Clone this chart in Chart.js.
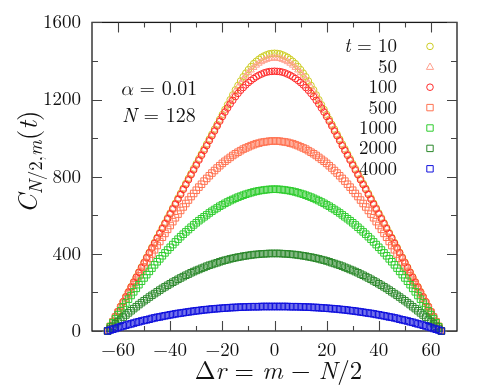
<!DOCTYPE html>
<html>
<head>
<meta charset="utf-8">
<script src="https://cdn.jsdelivr.net/npm/chart.js@4.4.1/dist/chart.umd.min.js"></script>
<style>
  html, body { margin: 0; padding: 0; background: #fff; }
  .warm { position: absolute; left: -999px; top: 0; font-family: "Latin Modern Roman"; }
</style>
</head>
<body>
<canvas id="chart" width="491" height="386"></canvas>
<div class="warm">0123 <i>tNm</i> αΔ</div>
<script>
// x positions: Δr = m - N/2
const dr = [-64,-63,-62,-61,-60,-59,-58,-57,-56,-55,-54,-53,-52,-51,-50,-49,-48,-47,-46,-45,-44,-43,-42,-41,-40,-39,-38,-37,-36,-35,-34,-33,-32,-31,-30,-29,-28,-27,-26,-25,-24,-23,-22,-21,-20,-19,-18,-17,-16,-15,-14,-13,-12,-11,-10,-9,-8,-7,-6,-5,-4,-3,-2,-1,0,1,2,3,4,5,6,7,8,9,10,11,12,13,14,15,16,17,18,19,20,21,22,23,24,25,26,27,28,29,30,31,32,33,34,35,36,37,38,39,40,41,42,43,44,45,46,47,48,49,50,51,52,53,54,55,56,57,58,59,60,61,62,63,64];

// C_{N/2,m}(t), one list per t
const c10 = [0,26,51,77,102,128,153,179,204,230,255,281,306,332,357,383,408,434,459,485,510,536,561,587,612,638,663,689,714,740,765,791,816,842,867,893,918,944,969,995,1020,1046,1071,1097,1122,1148,1173,1199,1224,1250,1273,1296,1318,1337,1355,1371,1386,1398,1409,1419,1426,1432,1437,1439,1440,
  1439,1437,1432,1426,1419,1409,1398,1386,1371,1355,1337,1318,1296,1273,1250,1224,1199,1173,1148,1122,1097,1071,1046,1020,995,969,944,918,893,867,842,816,791,765,740,714,689,663,638,612,587,561,536,510,485,459,434,408,383,357,332,306,281,255,230,204,179,153,128,102,77,51,26,0];
const c50 = [0,25,51,76,102,127,152,178,203,229,254,279,305,330,356,381,406,432,457,483,508,533,559,584,610,635,660,686,711,737,762,787,813,838,864,889,914,940,965,991,1016,1041,1067,1092,1118,1143,1168,1194,1219,1243,1265,1286,1305,1322,1339,1353,1366,1378,1388,1396,1403,1408,1412,1414,1415,
  1414,1412,1408,1403,1396,1388,1378,1366,1353,1339,1322,1305,1286,1265,1243,1219,1194,1168,1143,1118,1092,1067,1041,1016,991,965,940,914,889,864,838,813,787,762,737,711,686,660,635,610,584,559,533,508,483,457,432,406,381,356,330,305,279,254,229,203,178,152,127,102,76,51,25,0];
const c100 = [0,25,51,76,101,127,152,177,202,228,253,278,304,329,354,380,405,430,455,481,506,531,557,582,607,633,658,683,708,734,759,784,810,835,860,886,911,936,961,987,1012,1037,1063,1088,1112,1135,1156,1177,1196,1215,1232,1248,1262,1276,1288,1299,1309,1318,1326,1332,1338,1342,1345,1346,1347,
  1346,1345,1342,1338,1332,1326,1318,1309,1299,1288,1276,1262,1248,1232,1215,1196,1177,1156,1135,1112,1088,1063,1037,1012,987,961,936,911,886,860,835,810,784,759,734,708,683,658,633,607,582,557,531,506,481,455,430,405,380,354,329,304,278,253,228,202,177,152,127,101,76,51,25,0];
const c500 = [0,24,48,72,97,121,145,168,192,216,239,263,286,309,332,355,377,399,421,443,464,486,506,527,547,567,587,606,625,643,661,679,697,713,730,746,761,777,791,805,819,832,845,857,869,880,890,900,910,919,927,935,943,949,955,961,966,971,974,978,980,982,984,985,985,
  985,984,982,980,978,974,971,966,961,955,949,943,935,927,919,910,900,890,880,869,857,845,832,819,805,791,777,761,746,730,713,697,679,661,643,625,606,587,567,547,527,506,486,464,443,421,399,377,355,332,309,286,263,239,216,192,168,145,121,97,72,48,24,0];
const c1000 = [0,22,43,64,85,105,125,145,165,184,203,221,240,258,275,292,309,326,343,359,374,390,405,420,434,448,462,476,489,502,514,526,538,550,561,572,582,592,602,612,621,630,638,647,654,662,669,676,682,688,694,699,704,709,713,717,721,724,727,729,731,733,734,735,735,
  735,734,733,731,729,727,724,721,717,713,709,704,699,694,688,682,676,669,662,654,647,638,630,621,612,602,592,582,572,561,550,538,526,514,502,489,476,462,448,434,420,405,390,374,359,343,326,309,292,275,258,240,221,203,184,165,145,125,105,85,64,43,22,0];
const c2000 = [0,13,25,37,49,60,72,83,94,105,116,126,137,147,157,166,176,185,194,203,212,221,229,237,245,253,260,268,275,282,289,295,302,308,314,319,325,330,336,341,345,350,354,359,363,367,370,374,377,380,383,385,388,390,392,394,396,397,398,400,400,401,402,402,402,
  402,402,401,400,400,398,397,396,394,392,390,388,385,383,380,377,374,370,367,363,359,354,350,345,341,336,330,325,319,314,308,302,295,289,282,275,268,260,253,245,237,229,221,212,203,194,185,176,166,157,147,137,126,116,105,94,83,72,60,49,37,25,13,0];
const c4000 = [0,5,9,13,18,22,26,30,34,37,41,45,48,52,55,58,61,65,68,71,73,76,79,81,84,86,89,91,93,95,97,99,101,103,105,106,108,110,111,112,114,115,116,117,118,119,120,121,122,122,123,124,124,125,125,126,126,126,126,127,127,127,127,127,127,
  127,127,127,127,127,126,126,126,126,125,125,124,124,123,122,122,121,120,119,118,117,116,115,114,112,111,110,108,106,105,103,101,99,97,95,93,91,89,86,84,81,79,76,73,71,68,65,61,58,55,52,48,45,41,37,34,30,26,22,18,13,9,5,0];

const tLabels = ['10', '50', '100', '500', '1000', '2000', '4000'];
const xTicks = [-60, -40, -20, 0, 20, 40, 60];
const xMinor = [-50, -30, -10, 10, 30, 50];
const yTicks = [0, 400, 800, 1200, 1600];
const yMinor = [200, 600, 1000, 1400];

const seriesValues = [c10, c50, c100, c500, c1000, c2000, c4000];
const seriesColors = ['#cccc22', '#ffa08e', '#ff2a2a', '#ff7352', '#2ecc2e', '#2c882c', '#1010dd'];
const seriesShapes = ['circle', 'triangle', 'circle', 'rect', 'rect', 'rect', 'rect'];

const SERIF = '"Latin Modern Roman", "Latin Modern Math", "Liberation Serif", serif';

// draw a row of text pieces (some italic) as one line
function drawParts(ctx, parts, x, y, align) {
  let total = 0;
  parts.forEach(p => { ctx.font = p.font; p.w = ctx.measureText(p.t).width; total += p.w; });
  let cx = align === 'right' ? x - total : align === 'center' ? x - total / 2 : x;
  ctx.textAlign = 'left';
  ctx.textBaseline = 'alphabetic';
  parts.forEach(p => {
    ctx.font = p.font;
    ctx.fillText(p.t, cx, y + (p.dy || 0));
    cx += p.w;
  });
}

function drawMarker(ctx, shape, x, y, color) {
  ctx.save();
  ctx.strokeStyle = color;
  ctx.lineWidth = 1;
  ctx.beginPath();
  if (shape === 'circle') {
    ctx.arc(x, y, 3.3, 0, Math.PI * 2);
  } else if (shape === 'triangle') {
    ctx.moveTo(x, y - 3.8);
    ctx.lineTo(x + 3.6, y + 2.6);
    ctx.lineTo(x - 3.6, y + 2.6);
    ctx.closePath();
  } else {
    ctx.rect(x - 3.2, y - 3.2, 6.4, 6.4);
  }
  ctx.stroke();
  ctx.restore();
}

const framePlugin = {
  id: 'frame',
  beforeDatasetsDraw(chart) {
    const { ctx, chartArea: a, scales: { x, y } } = chart;
    ctx.save();
    ctx.strokeStyle = '#1a1a1a';
    ctx.lineWidth = 1.3;
    ctx.strokeRect(a.left, a.top, a.right - a.left, a.bottom - a.top);
    ctx.lineWidth = 1.1;
    ctx.strokeStyle = '#444';
    ctx.beginPath();
    const xt = (v, len) => {
      const px = Math.round(x.getPixelForValue(v)) + 0.5;
      ctx.moveTo(px, a.bottom); ctx.lineTo(px, a.bottom - len);
      ctx.moveTo(px, a.top); ctx.lineTo(px, a.top + len);
    };
    const yt = (v, len) => {
      const py = Math.round(y.getPixelForValue(v)) + 0.5;
      ctx.moveTo(a.left, py); ctx.lineTo(a.left + len, py);
      ctx.moveTo(a.right, py); ctx.lineTo(a.right - len, py);
    };
    xTicks.forEach(v => xt(v, 10));
    xMinor.forEach(v => xt(v, 5));
    yTicks.forEach(v => yt(v, 10));
    yMinor.forEach(v => yt(v, 6));
    ctx.stroke();
    ctx.restore();
  },
  afterDraw(chart) {
    const { ctx, chartArea: a } = chart;
    ctx.save();
    ctx.fillStyle = '#111';

    // legend, text right-aligned, marker on the right
    tLabels.forEach((lab, i) => {
      const ly = a.top + 24 + i * 20.4;
      const parts = i === 0
        ? [{ t: 't', font: 'italic 19px ' + SERIF }, { t: ' = ' + lab, font: '19px ' + SERIF }]
        : [{ t: lab, font: '19px ' + SERIF }];
      drawParts(ctx, parts, a.right - 60, ly + 6, 'right');
      drawMarker(ctx, seriesShapes[i], a.right - 27, ly, seriesColors[i]);
    });

    // parameters
    drawParts(ctx, [{ t: 'α', font: 'italic 20px ' + SERIF }, { t: ' = 0.01', font: '20px ' + SERIF }], 120, 95, 'left');
    drawParts(ctx, [{ t: 'N', font: 'italic 20px ' + SERIF }, { t: ' = 128', font: '20px ' + SERIF }], 122, 122, 'left');

    // x title
    drawParts(ctx, [
      { t: 'Δ', font: '25px ' + SERIF },
      { t: 'r', font: 'italic 25px ' + SERIF },
      { t: ' = ', font: '25px ' + SERIF },
      { t: 'm', font: 'italic 25px ' + SERIF },
      { t: ' − ', font: '25px ' + SERIF },
      { t: 'N', font: 'italic 25px ' + SERIF },
      { t: '/2', font: '25px ' + SERIF }
    ], (a.left + a.right) / 2 + 4, 379, 'center');

    // y title, rotated
    ctx.translate(37, 162);
    ctx.rotate(-Math.PI / 2);
    drawParts(ctx, [
      { t: 'C', font: 'italic 27px ' + SERIF },
      { t: 'N', font: 'italic 19px ' + SERIF, dy: 5 },
      { t: '/2,', font: '19px ' + SERIF, dy: 5 },
      { t: 'm', font: 'italic 19px ' + SERIF, dy: 5 },
      { t: '(', font: '27px ' + SERIF },
      { t: 't', font: 'italic 27px ' + SERIF },
      { t: ')', font: '27px ' + SERIF }
    ], 0, 0, 'center');
    ctx.restore();
  }
};

function draw() {
  const datasets = seriesValues.map((vals, i) => ({
    label: 't = ' + tLabels[i],
    data: dr.map((x, j) => ({ x: x, y: vals[j] })),
    pointStyle: seriesShapes[i],
    pointRadius: seriesShapes[i] === 'rect' ? 4.6 : (seriesShapes[i] === 'triangle' ? 3.8 : 3.3),
    pointBorderWidth: 1,
    borderColor: seriesColors[i],
    backgroundColor: 'rgba(0,0,0,0)',
    showLine: false,
    clip: false,
    order: seriesValues.length - i
  }));

  new Chart(document.getElementById('chart'), {
    type: 'scatter',
    data: { datasets: datasets },
    options: {
      responsive: false,
      devicePixelRatio: 1,
      animation: false,
      layout: { autoPadding: false, padding: { top: 17, right: 34, left: 0, bottom: 0 } },
      plugins: { legend: { display: false }, tooltip: { enabled: false } },
      scales: {
        x: {
          type: 'linear',
          min: -70,
          max: 70,
          afterBuildTicks: s => { s.ticks = xTicks.map(v => ({ value: v })); },
          afterFit: s => { s.height = 55; },
          grid: { display: false, drawTicks: false },
          border: { display: false },
          ticks: {
            autoSkip: false,
            maxRotation: 0,
            padding: 8,
            color: '#111',
            font: { family: SERIF, size: 19 },
            callback: v => String(v).replace('-', '\u2212')
          }
        },
        y: {
          type: 'linear',
          min: 0,
          max: 1600,
          afterBuildTicks: s => { s.ticks = yTicks.map(v => ({ value: v })); },
          afterFit: s => { s.width = 92; },
          grid: { display: false, drawTicks: false },
          border: { display: false },
          ticks: {
            padding: 11,
            color: '#111',
            font: { family: SERIF, size: 19 },
            callback: v => String(v)
          }
        }
      }
    },
    plugins: [framePlugin]
  });
}

Promise.all([
  document.fonts.load('19px "Latin Modern Roman"'),
  document.fonts.load('italic 19px "Latin Modern Roman"')
]).then(draw, draw);
</script>
</body>
</html>
